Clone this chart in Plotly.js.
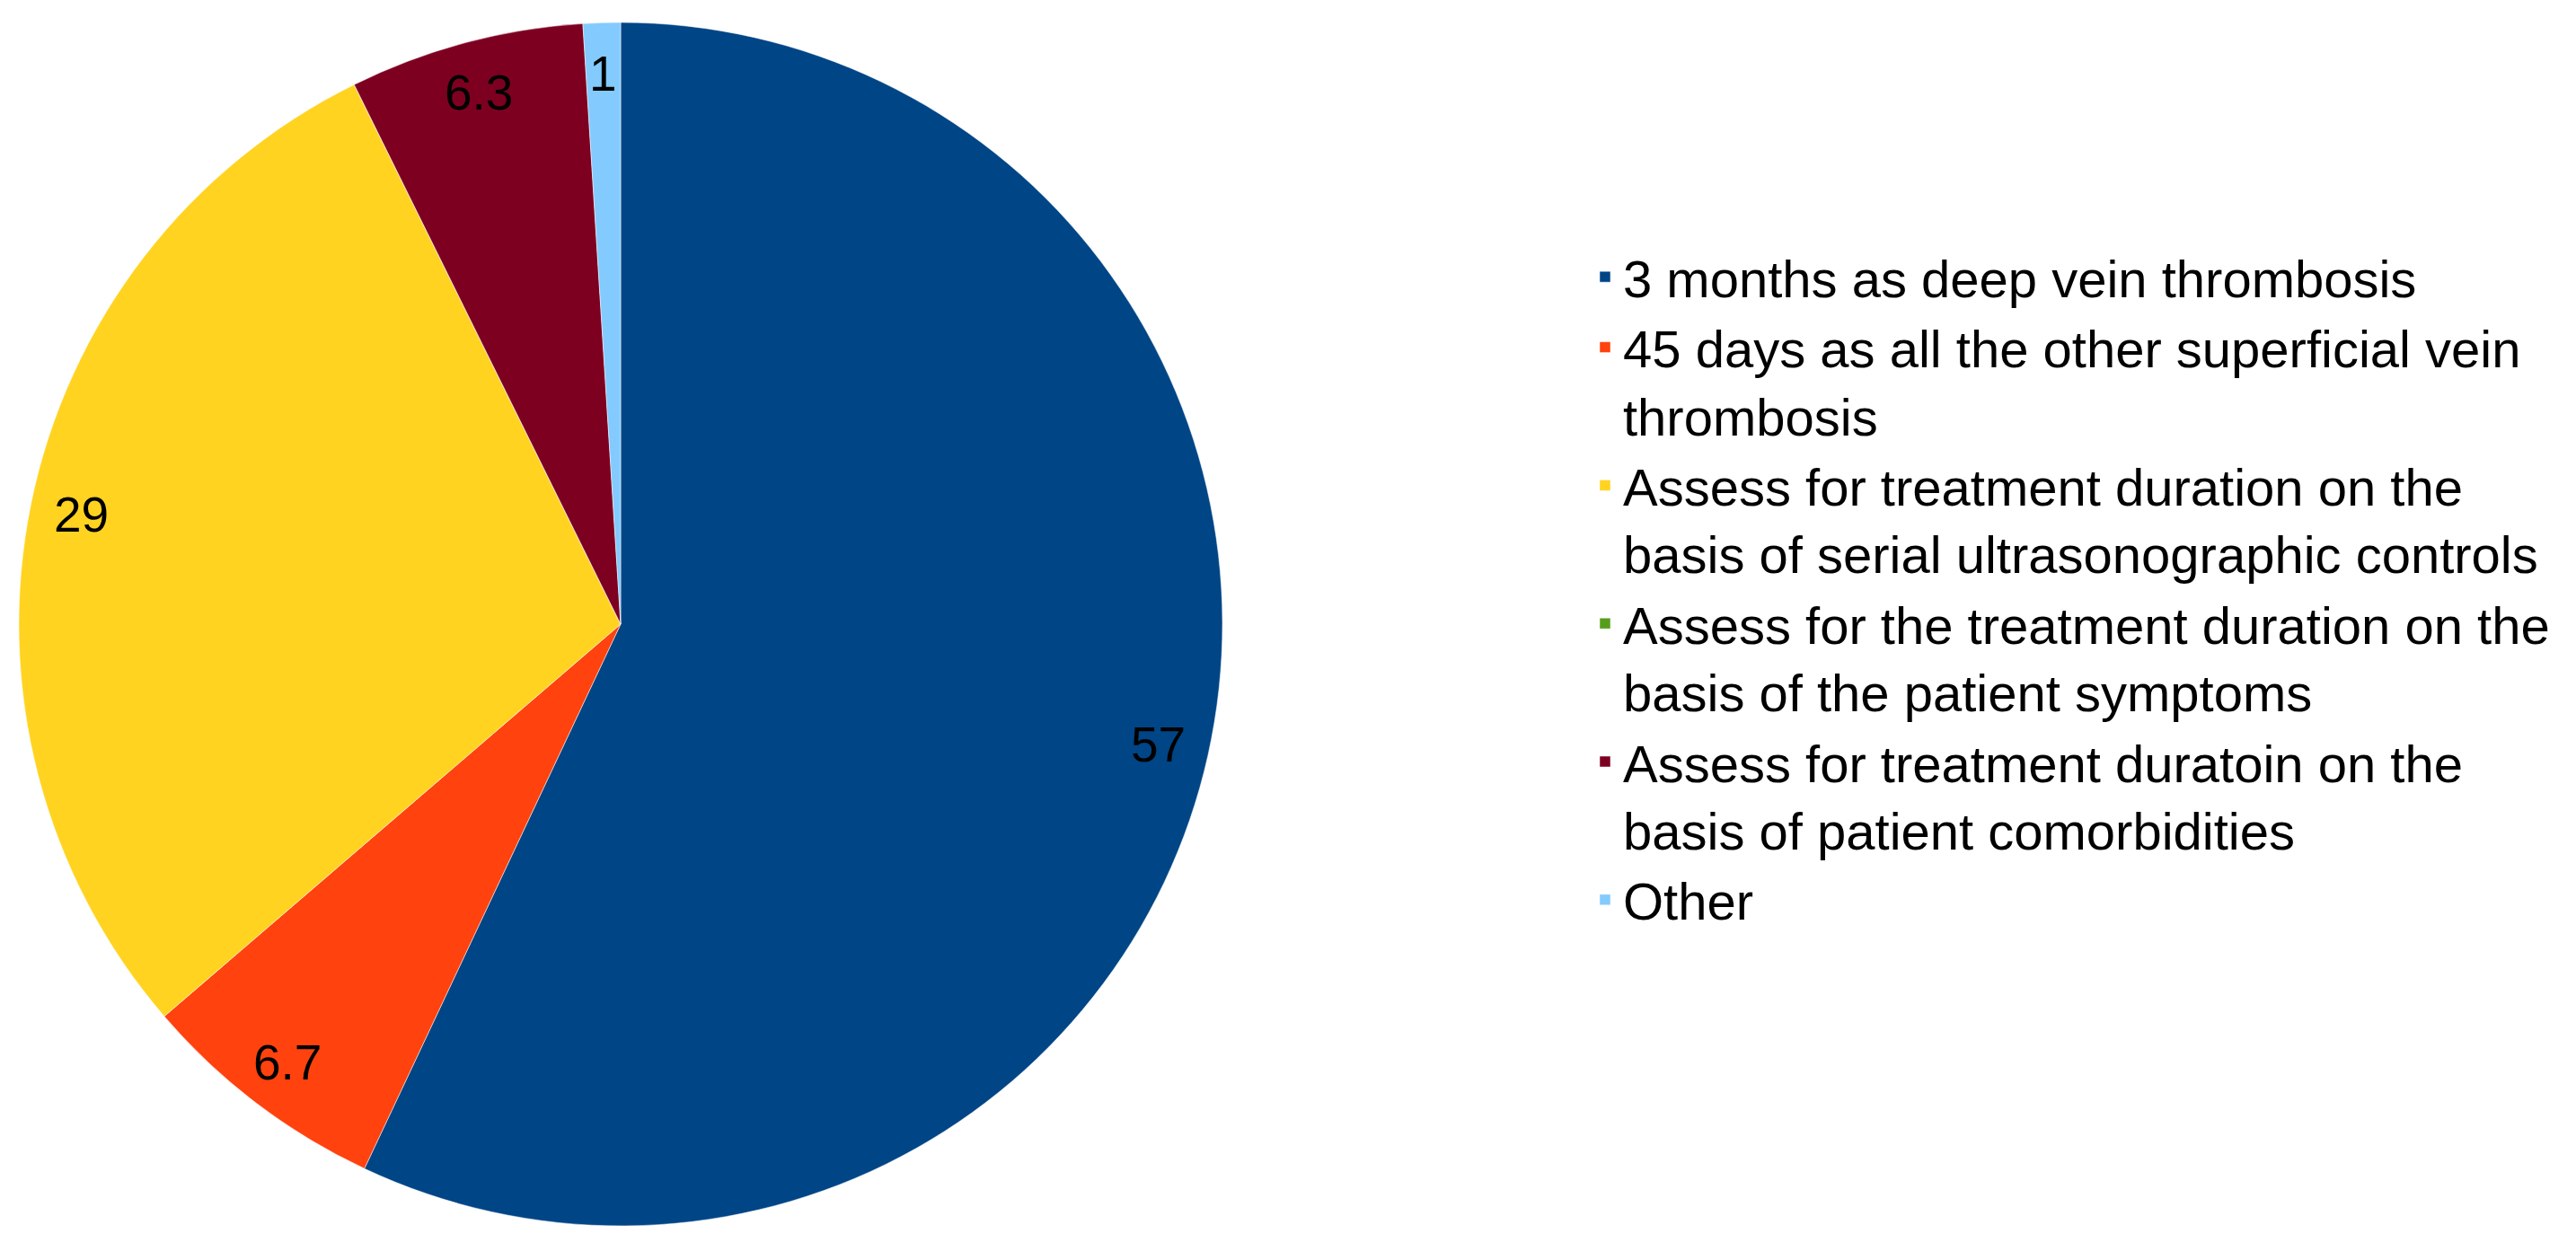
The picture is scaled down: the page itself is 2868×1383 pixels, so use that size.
<!DOCTYPE html>
<html>
<head>
<meta charset="utf-8">
<script src="https://cdn.plot.ly/plotly-3.0.1.min.js"></script>
<style>
  html, body { margin: 0; padding: 0; background: #ffffff; }
  #chart { width: 2868px; height: 1383px; }
</style>
</head>
<body>
<div id="chart"></div>
<script>
// Answers (percent of respondents)
const categories = [
  "3 months as deep vein thrombosis",
  "45 days as all the other superficial vein<br>thrombosis",
  "Assess for treatment duration on the<br>basis of serial ultrasonographic controls",
  "Assess for the treatment duration on the<br>basis of the patient symptoms",
  "Assess for treatment duratoin on the<br>basis of patient comorbidities",
  "Other"
];
const values = [57, 6.7, 29, 0, 6.3, 1];
const sliceColors = ["#004586", "#ff420e", "#ffd320", "#579d1c", "#7e0021", "#83caff"];

const W = 2868, H = 1383;
const domainX = [21 / W, 1361 / W];
const domainY = [1 - 1365 / H, 1 - 25 / H];

const pie = {
  type: "pie",
  labels: categories,
  values: values,
  sort: false,
  direction: "clockwise",
  rotation: 0,
  textinfo: "none",
  hoverinfo: "label+value",
  marker: { colors: sliceColors, line: { color: "#ffffff", width: 0.5 } },
  domain: { x: domainX, y: domainY }
};

// Value labels placed horizontally near the rim of each slice, at its mid-angle
const cxPx = (domainX[0] + domainX[1]) / 2 * W;
const cyPx = H - (domainY[0] + domainY[1]) / 2 * H;
const rPx = Math.min((domainX[1] - domainX[0]) * W, (domainY[1] - domainY[0]) * H) / 2;
const total = values.reduce((a, b) => a + b, 0);
const labelRadius = 0.915;
const annotations = [];
let cum = 0;
values.forEach((v) => {
  const mid = (cum + v / 2) / total * 2 * Math.PI;
  cum += v;
  if (v <= 0) return;
  const xPx = cxPx + rPx * labelRadius * Math.sin(mid);
  const yPx = cyPx - rPx * labelRadius * Math.cos(mid);
  annotations.push({
    xref: "paper", yref: "paper",
    x: xPx / W, y: 1 - yPx / H,
    xanchor: "center", yanchor: "middle",
    text: String(v),
    showarrow: false,
    font: { family: "Liberation Sans, Arial, sans-serif", size: 55, color: "#000000" }
  });
});

const layout = {
  width: W,
  height: H,
  margin: { l: 0, r: 0, t: 0, b: 0, pad: 0 },
  paper_bgcolor: "#ffffff",
  showlegend: true,
  legend: {
    x: 1767 / W,
    xanchor: "left",
    y: 1 - 264 / H,
    yanchor: "top",
    valign: "top",
    bgcolor: "rgba(0,0,0,0)",
    font: { family: "Liberation Sans, Arial, sans-serif", size: 58, color: "#000000" },
    tracegroupgap: 0
  },
  annotations: annotations
};

Plotly.newPlot("chart", [pie], layout, { displayModeBar: false, staticPlot: true });
</script>
</body>
</html>
